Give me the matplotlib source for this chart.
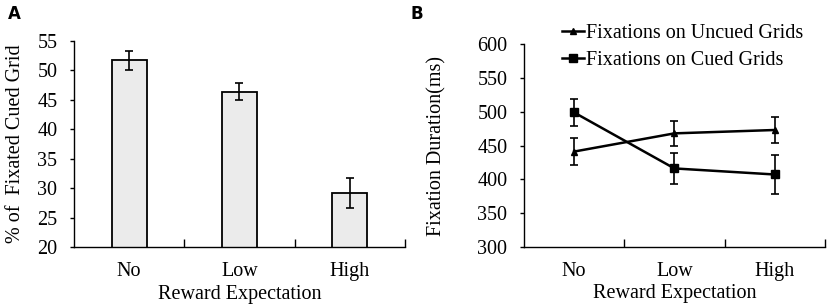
import numpy as np
import matplotlib
matplotlib.use("Agg")
import matplotlib.pyplot as plt

plt.rcParams['font.family'] = ['Liberation Serif', 'DejaVu Serif']

# data
categories = ['No', 'Low', 'High']
pct_cued = [51.7, 46.4, 29.2]
pct_err = [1.6, 1.4, 2.5]

uncued = [441, 468, 473]
uncued_err = [19.5, 19, 20]
cued = [499, 416, 407]
cued_err = [20, 23, 29]

fig = plt.figure(figsize=(8.29, 3.06), dpi=100)
fs = 14.5

# panel A
ax1 = fig.add_axes([0.0893, 0.193, 0.3992, 0.673])
x = np.arange(len(categories))
ax1.bar(x, pct_cued, width=0.32, color='#ebebeb', edgecolor='black', linewidth=1.3)
ax1.errorbar(x, pct_cued, yerr=pct_err, fmt='none', ecolor='black', elinewidth=1.2, capsize=3, capthick=1.2)
ax1.set_ylim(20, 55)
ax1.set_yticks(range(20, 56, 5))
ax1.set_xlim(-0.5, 2.5)
ax1.set_ylabel('% of  Fixated Cued Grid', fontsize=fs, labelpad=9)

# panel B
ax2 = fig.add_axes([0.632, 0.194, 0.363, 0.661])
ax2.errorbar(x, uncued, yerr=uncued_err, color='black', marker='^', markersize=5, linewidth=1.8,
             elinewidth=1.2, capsize=3, capthick=1.2, label='Fixations on Uncued Grids')
ax2.errorbar(x, cued, yerr=cued_err, color='black', marker='s', markersize=5.5, linewidth=1.8,
             elinewidth=1.2, capsize=3, capthick=1.2, label='Fixations on Cued Grids')
ax2.set_ylim(300, 600)
ax2.set_yticks(range(300, 601, 50))
ax2.set_xlim(-0.5, 2.5)
ax2.set_ylabel('Fixation Duration(ms)', fontsize=fs, labelpad=22)
handles, labels = ax2.get_legend_handles_labels()
handles = [h[0] for h in handles]
ax2.legend(handles, labels, loc='upper left', bbox_to_anchor=(0.1, 1.14), frameon=False,
           fontsize=fs, handlelength=1.1, handletextpad=0.1, labelspacing=0.4, borderaxespad=0)

for ax in (ax1, ax2):
    ax.spines['top'].set_visible(False)
    ax.spines['right'].set_visible(False)
    ax.spines['left'].set_linewidth(1.0)
    ax.spines['bottom'].set_linewidth(1.0)
    ax.set_xticks(x)
    ax.set_xticklabels(categories)
    ax.set_xticks([0.5, 1.5, 2.5], minor=True)
    ax.tick_params(axis='x', which='major', length=0, labelsize=fs, pad=11)
    ax.tick_params(axis='x', which='minor', direction='in', length=6, width=1.0)
    ax.tick_params(axis='y', direction='out', length=3, width=1.0, labelsize=fs, pad=9)
    ax.set_xlabel('Reward Expectation', fontsize=fs, labelpad=2.5)

fig.text(0.01, 0.955, 'A', fontsize=12, fontweight='bold', family='DejaVu Sans', va='center')
fig.text(0.495, 0.955, 'B', fontsize=12, fontweight='bold', family='DejaVu Sans', va='center')

fig.savefig('out.png', dpi=100)
